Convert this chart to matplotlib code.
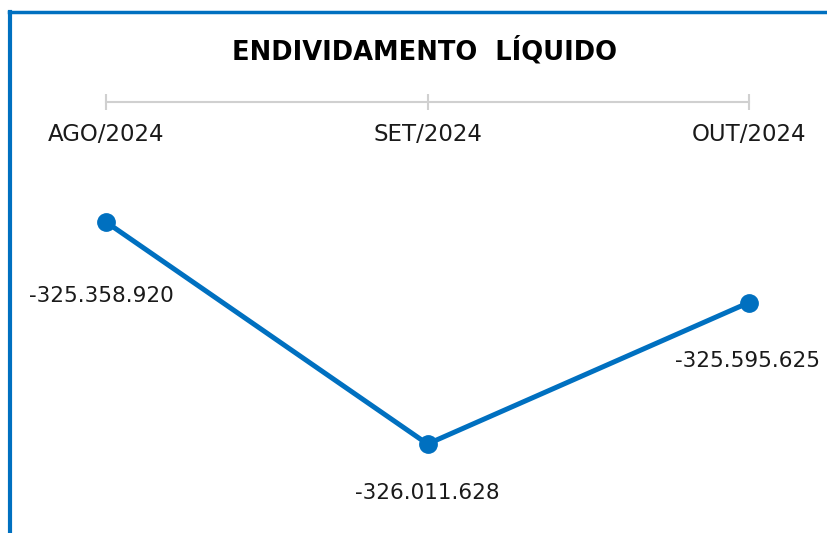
import matplotlib.pyplot as plt
from matplotlib.lines import Line2D

months = ["AGO/2024", "SET/2024", "OUT/2024"]
values = [-325358920, -326011628, -325595625]
labels = ["-325.358.920", "-326.011.628", "-325.595.625"]

blue = "#0070C0"
grey = "#D0D0D0"

W, H = 827, 533
fig = plt.figure(figsize=(W / 100, H / 100), dpi=100)

# plot area in pixel terms: x axis line at top (y=102), lowest point at y=444
left, right, top, bottom = 106, 749, 102, 444
ax = fig.add_axes([left / W, 1 - bottom / H, (right - left) / W, (bottom - top) / H])

x = list(range(len(months)))
ax.plot(x, values, color=blue, lw=3.6, marker="o", ms=12.5, clip_on=False,
        solid_capstyle="round", zorder=3)

ax.set_xlim(0, 2)
span = (max(values) - min(values)) / (444 - 222)
ax.set_ylim(min(values), max(values) + (222 - 102) * span)

for s in ["left", "right", "bottom"]:
    ax.spines[s].set_visible(False)
ax.spines["top"].set_color(grey)
ax.spines["top"].set_linewidth(1.5)
ax.set_yticks([])
ax.set_xticks(x)
ax.set_xticklabels(months)
ax.tick_params(axis="x", top=True, bottom=False, labeltop=True, labelbottom=False,
               direction="inout", length=11, width=1.5, color=grey,
               pad=-37, labelsize=16.5, labelcolor="#1a1a1a")

# data labels under the points
offsets = [(-3, -53), (0, -35), (-1, -42)]
for xi, v, t, (dx, dy) in zip(x, values, labels, offsets):
    ax.annotate(t, (xi, v), xytext=(dx, dy), textcoords="offset points",
                ha="center", va="center", fontsize=15.5, color="#1a1a1a",
                annotation_clip=False)

fig.text(425 / W, 1 - 51 / H, "ENDIVIDAMENTO  LÍQUIDO", ha="center", va="center",
         fontsize=18.5, fontweight="bold", color="black")

# blue frame on left and top edges
fig.add_artist(Line2D([10 / W, 10 / W], [0, 1 - 11.5 / H], color=blue, lw=3,
                      transform=fig.transFigure))
fig.add_artist(Line2D([8.5 / W, 1], [1 - 11.5 / H, 1 - 11.5 / H], color=blue, lw=2.5,
                      transform=fig.transFigure))

fig.savefig("out.png", dpi=100)
